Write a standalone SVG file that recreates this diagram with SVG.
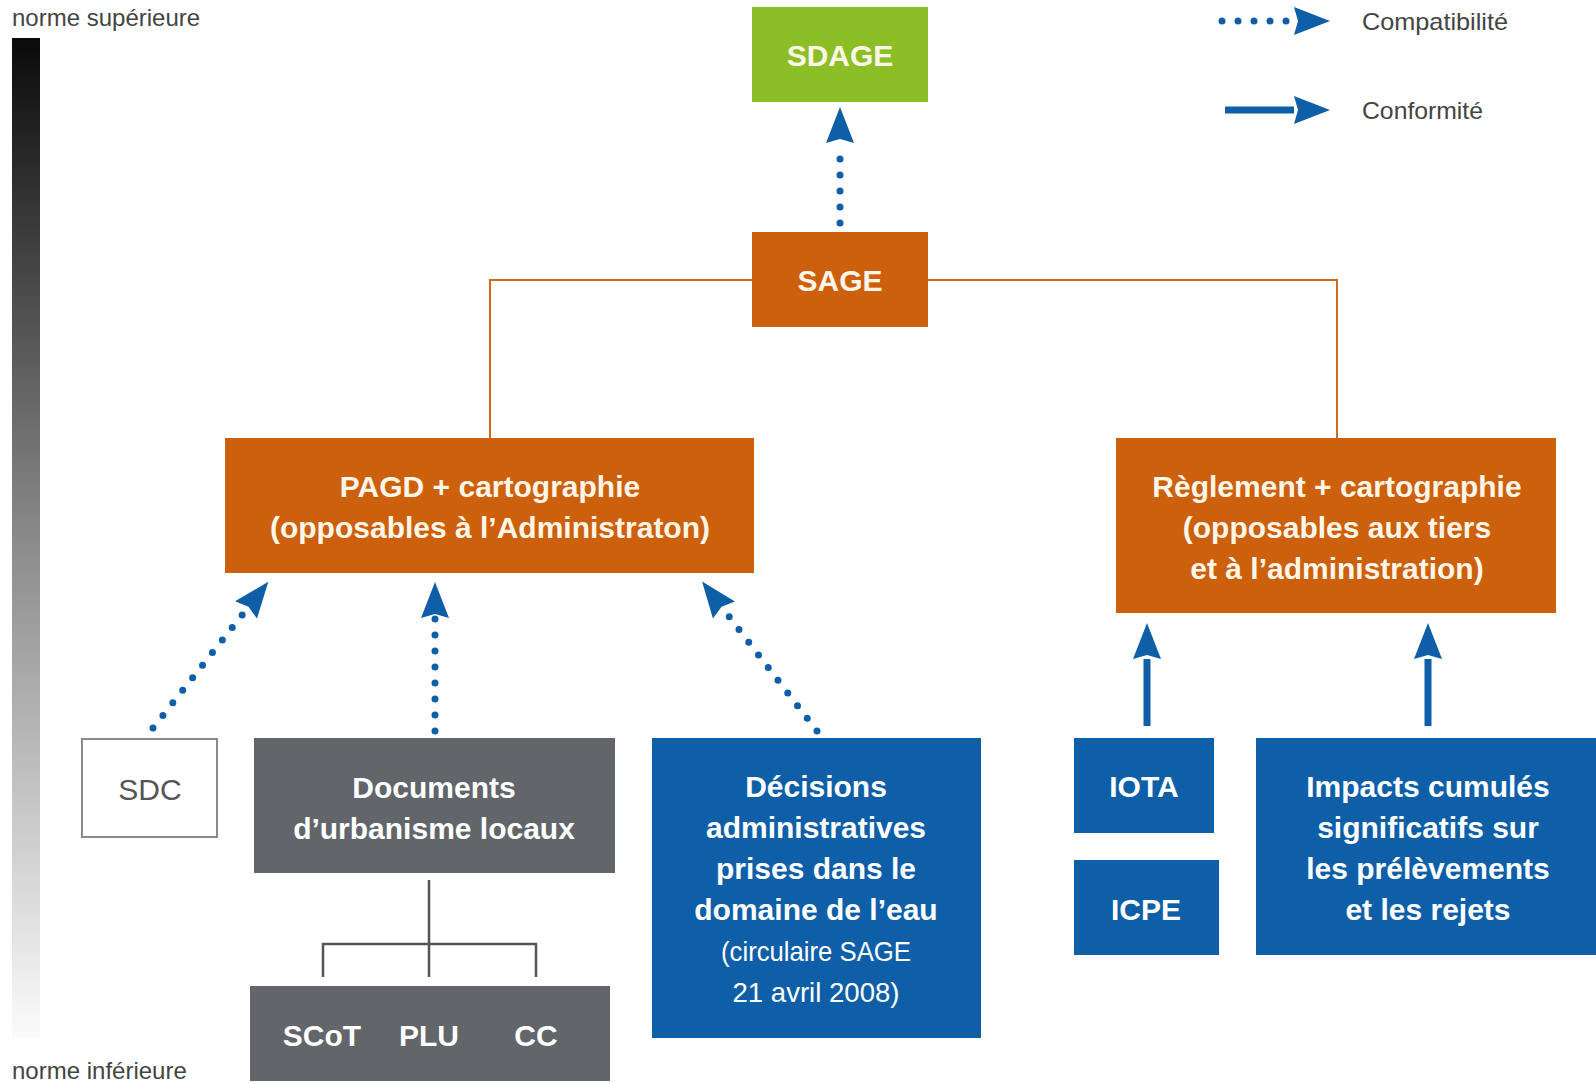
<svg xmlns="http://www.w3.org/2000/svg" width="1596" height="1084" viewBox="0 0 1596 1084">
<defs>
<linearGradient id="scale" x1="0" y1="0" x2="0" y2="1">
<stop offset="0" stop-color="#0a0a0a"/>
<stop offset="0.5" stop-color="#8a8a8a"/>
<stop offset="1" stop-color="#fbfbfb"/>
</linearGradient>
<marker id="head" viewBox="0 0 36 28" refX="0" refY="14" markerWidth="36" markerHeight="28" markerUnits="userSpaceOnUse" orient="auto">
<path d="M0,0 L36,14 L0,28 L4,14 Z" fill="#0f5fa8"/>
</marker>
</defs>
<style>
.t{font-family:"Liberation Sans",Arial,sans-serif;text-anchor:middle}
.b{font-weight:bold;font-size:30px}
.w{fill:#fff6e8}
.wb{fill:#ffffff}
.orange{fill:#cc600c}
.blue{fill:#0f5fa8}
.gray{fill:#626569}
.green{fill:#8cbf26}
.dot{stroke:#0f5fa8;stroke-width:7;stroke-linecap:round;stroke-dasharray:0 16;fill:none}
.solid{stroke:#0f5fa8;stroke-width:7;fill:none}
.tree{stroke:#d2691e;stroke-width:2;fill:none}
.gtree{stroke:#555;stroke-width:2.5;fill:none}
.lab{font-family:"Liberation Sans",Arial,sans-serif;font-size:24px;fill:#444}
</style>
<rect width="1596" height="1084" fill="#ffffff"/>

<g id="scale-bar">
<rect x="12" y="38" width="28" height="1000" fill="url(#scale)"/>
<text class="lab" x="12" y="26">norme supérieure</text>
<text class="lab" x="12" y="1079">norme inférieure</text>
</g>

<g id="legend">
<line class="dot" x1="1222" y1="21" x2="1294" y2="21" marker-end="url(#head)"/>
<text class="lab" x="1362" y="30" textLength="146" lengthAdjust="spacingAndGlyphs">Compatibilité</text>
<line class="solid" x1="1225" y1="110" x2="1294" y2="110" marker-end="url(#head)"/>
<text class="lab" x="1362" y="119" textLength="121" lengthAdjust="spacingAndGlyphs">Conformité</text>
</g>

<g id="connectors">
<path class="tree" d="M752,280 H490 V438"/>
<path class="tree" d="M928,280 H1337 V438"/>
<path class="gtree" d="M429,880 V977 M323,977 V944 H536 V977"/>
<line class="dot" x1="840" y1="223" x2="840" y2="143" marker-end="url(#head)"/>
<line class="dot" x1="153" y1="728" x2="246" y2="610" marker-end="url(#head)"/>
<line class="dot" x1="435" y1="731" x2="435" y2="618" marker-end="url(#head)"/>
<line class="dot" x1="817" y1="731" x2="724" y2="610" marker-end="url(#head)"/>
<line class="solid" x1="1147" y1="726" x2="1147" y2="659" marker-end="url(#head)"/>
<line class="solid" x1="1428" y1="726" x2="1428" y2="659" marker-end="url(#head)"/>
</g>

<g id="sdage">
<rect class="green" x="752" y="7" width="176" height="95"/>
<text class="t b w" x="840" y="66">SDAGE</text>
</g>

<g id="sage">
<rect class="orange" x="752" y="232" width="176" height="95"/>
<text class="t b w" x="840" y="291">SAGE</text>
</g>

<g id="pagd">
<rect class="orange" x="225" y="438" width="529" height="135"/>
<text class="t b w" x="490" y="497">PAGD + cartographie</text>
<text class="t b w" x="490" y="538">(opposables à l’Administraton)</text>
</g>

<g id="reglement">
<rect class="orange" x="1116" y="438" width="440" height="175"/>
<text class="t b w" x="1337" y="497">Règlement + cartographie</text>
<text class="t b w" x="1337" y="538">(opposables aux tiers</text>
<text class="t b w" x="1337" y="579">et à l’administration)</text>
</g>

<g id="sdc">
<rect x="82" y="739" width="135" height="98" fill="#ffffff" stroke="#8a8a8a" stroke-width="2"/>
<text class="t" x="150" y="800" font-size="30" fill="#555">SDC</text>
</g>

<g id="documents">
<rect class="gray" x="254" y="738" width="361" height="135"/>
<text class="t b wb" x="434" y="798">Documents</text>
<text class="t b wb" x="434" y="839">d’urbanisme locaux</text>
</g>

<g id="scot-plu-cc">
<rect class="gray" x="250" y="986" width="360" height="95"/>
<text class="t b wb" x="322" y="1046">SCoT</text>
<text class="t b wb" x="429" y="1046">PLU</text>
<text class="t b wb" x="536" y="1046">CC</text>
</g>

<g id="decisions">
<rect class="blue" x="652" y="738" width="329" height="300"/>
<text class="t b wb" x="816" y="797">Décisions</text>
<text class="t b wb" x="816" y="838">administratives</text>
<text class="t b wb" x="816" y="879">prises dans le</text>
<text class="t b wb" x="816" y="920">domaine de l’eau</text>
<text class="t wb" x="816" y="961" font-size="28" textLength="190" lengthAdjust="spacingAndGlyphs">(circulaire SAGE</text>
<text class="t wb" x="816" y="1002" font-size="28" textLength="167" lengthAdjust="spacingAndGlyphs">21 avril 2008)</text>
</g>

<g id="iota">
<rect class="blue" x="1074" y="738" width="140" height="95"/>
<text class="t b wb" x="1144" y="797">IOTA</text>
</g>

<g id="icpe">
<rect class="blue" x="1074" y="860" width="145" height="95"/>
<text class="t b wb" x="1146" y="920">ICPE</text>
</g>

<g id="impacts">
<rect class="blue" x="1256" y="738" width="340" height="217"/>
<text class="t b wb" x="1428" y="797">Impacts cumulés</text>
<text class="t b wb" x="1428" y="838">significatifs sur</text>
<text class="t b wb" x="1428" y="879">les prélèvements</text>
<text class="t b wb" x="1428" y="920">et les rejets</text>
</g>
</svg>
